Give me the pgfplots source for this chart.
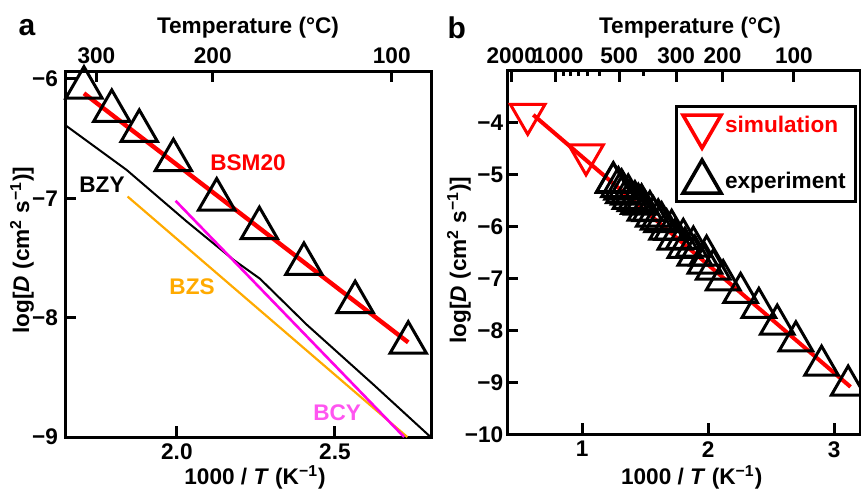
\documentclass[border=0pt]{standalone}
\usepackage{fontspec}
\setmainfont{Liberation Sans}[UprightFont=* Bold, ItalicFont=* Bold Italic, BoldFont=* Bold, BoldItalicFont=* Bold Italic]
\usepackage{pgfplots}
\pgfplotsset{compat=1.18}
\usetikzlibrary{plotmarks}

\definecolor{bzsorange}{RGB}{255,170,0}
\definecolor{bcymag}{RGB}{255,0,230}
\definecolor{bcytext}{RGB}{255,85,240}
\newcommand\fs{\fontsize{11.3}{13.5}\selectfont}

\pgfplotsset{
  panel/.style={
    scale only axis, clip=false,
    axis line style={line width=1.5pt},
    every tick/.append style={black, line width=1.5pt},
    tick align=inside, major tick length=5.5pt, minor tick length=2.5pt,
    tick label style={font=\fs},
  },
  tri/.style={only marks, mark=triangle, mark size=#1,
    mark options={black, line width=1.5pt}},
}

\begin{document}
\begin{tikzpicture}
\useasboundingbox (0,0) rectangle (430.5pt,-244pt);

% ---------- panel a ----------
\begin{axis}[panel,
  at={(32.5pt,-218.5pt)}, anchor=south west,
  width=183pt, height=183pt,
  xmin=1.646, xmax=2.804, ymin=-9, ymax=-5.933,
  xtick pos=left, ytick pos=left,
  xtick={2.0,2.5}, xticklabels={2.0,2.5},
  ytick={-9,-8,-7,-6}, yticklabels={−9,−8,−7,−6},
]
% BZY
\addplot[black, line width=1pt] coordinates {
 (1.646,-6.385) (1.841,-6.762) (2.031,-7.194) (2.179,-7.515)
 (2.263,-7.674) (2.411,-8.059) (2.622,-8.561) (2.801,-8.996)};
% BZS
\addplot[bzsorange, line width=1.1pt] coordinates {(1.844,-6.985) (2.729,-9.0)};
% BCY
\addplot[bcymag, line width=1.3pt] coordinates {(1.996,-7.021) (2.719,-9.0)};
% BSM20 experiment
\addplot[tri=10.5pt] coordinates {
 (1.706,-6.073) (1.794,-6.268) (1.881,-6.435) (1.989,-6.680) (2.126,-7.010)
 (2.261,-7.250) (2.402,-7.550) (2.564,-7.870) (2.732,-8.210)};
% BSM20 fit
\addplot[red, line width=2.2pt] coordinates {(1.706,-6.12) (2.732,-8.207)};

\node[red, font=\fs] at (axis cs:2.225,-6.704) {BSM20};
\node[black, font=\fs] at (axis cs:1.763,-6.888) {BZY};
\node[bzsorange, font=\fs] at (axis cs:2.048,-7.743) {BZS};
\node[bcytext, font=\fs] at (axis cs:2.507,-8.799) {BCY};
\end{axis}

\begin{axis}[panel,
  at={(32.5pt,-218.5pt)}, anchor=south west,
  width=183pt, height=183pt,
  xmin=1.646, xmax=2.804, ymin=0, ymax=1,
  hide y axis, axis line style={draw=none},
  xtick pos=right, xticklabel pos=right,
  xtick={1.7452,2.1135,2.6799}, xticklabels={300,200,100},
]
\end{axis}

% ---------- panel b ----------
\begin{axis}[panel,
  at={(253.65pt,-217.15pt)}, anchor=south west,
  width=176.35pt, height=181.8pt,
  xmin=0.405, xmax=3.205, ymin=-10, ymax=-3,
  xtick pos=left, ytick pos=left,
  xtick={1,2,3}, xticklabels={1,2,3},
  ytick={-10,-9,-8,-7,-6,-5,-4}, yticklabels={−10,−9,−8,−7,−6,−5,−4},
  yticklabel style={xshift=1.5pt},
  legend style={at={(0.992,0.906)}, anchor=north east, draw=black,
    line width=1.5pt, font=\fs, inner xsep=3pt, inner ysep=3pt,
    row sep=6pt, cells={anchor=west}},
  legend image code/.code={\draw[#1, mark repeat=2, mark phase=2]
    plot coordinates {(0pt,0pt) (11pt,0pt) (22pt,0pt)};},
]
\addlegendimage{only marks, mark=triangle, mark size=11pt,
  mark options={red, line width=1.8pt, rotate=180}}
\addlegendentry{\textcolor{red}{simulation}}
\addlegendimage{only marks, mark=triangle, mark size=11pt,
  mark options={black, line width=1.8pt}}
\addlegendentry{experiment}

% experiment
\addplot[tri=9.7pt, forget plot] coordinates {
 (1.247,-5.143) (1.287,-5.239) (1.326,-5.355) (1.379,-5.464) (1.445,-5.561)
 (1.498,-5.690) (1.564,-5.805) (1.630,-5.913) (1.710,-6.062) (1.802,-6.235)
 (1.882,-6.383) (1.987,-6.557)};
\addplot[tri=9.7pt, forget plot] coordinates {
 (1.246,-5.154) (1.313,-5.283) (1.365,-5.380) (1.418,-5.509) (1.471,-5.572)
 (1.537,-5.701) (1.603,-5.861) (1.670,-6.054) (1.736,-6.247) (1.815,-6.407)
 (1.894,-6.555) (1.974,-6.709) (2.040,-6.825)};
\addplot[tri=9.7pt, forget plot] coordinates {
 (2.119,-7.031) (2.257,-7.275) (2.402,-7.564) (2.548,-7.886)
 (2.696,-8.208) (2.900,-8.676) (3.111,-9.060)};
% simulation
\addplot[only marks, mark=triangle, mark size=10pt, forget plot,
  mark options={red, line width=1.5pt, rotate=180}] coordinates {
 (0.567,-3.84) (1.03,-4.62)};
\addplot[red, line width=2pt, forget plot] coordinates {(0.611,-3.85) (3.13,-9.087)};
\end{axis}

\begin{axis}[panel,
  at={(253.65pt,-217.15pt)}, anchor=south west,
  width=176.35pt, height=181.8pt,
  xmin=0.405, xmax=3.205, ymin=0, ymax=1,
  hide y axis, axis line style={draw=none},
  xtick pos=right, xticklabel pos=right,
  xtick={0.43997,0.78555,1.29341,1.74520,2.11349,2.67989},
  xticklabels={2000\hspace{7pt},\hspace{3pt}1000,500,300,200,100},
  minor xtick={0.849,0.908,0.974,1.040,1.140,1.484},
]
\end{axis}

% ---------- labels ----------
\node[font=\fontsize{15}{17}\selectfont] at (13.5pt,-14pt) {a};
\node[font=\fontsize{15}{17}\selectfont] at (228.35pt,-14pt) {b};
\node[font=\fs] at (124pt,-14pt) {Temperature (°C)};
\node[font=\fs] at (345pt,-14pt) {Temperature (°C)};
\node[font=\fs] at (127.5pt,-238.5pt) {1000 / \textit{T} (K\textsuperscript{−1})};
\node[font=\fs] at (345.85pt,-238.5pt) {1000 / \textit{T} (K\textsuperscript{−1})};
\node[font=\fs, rotate=90, anchor=base] at (14.5pt,-125pt)
  {log[\textit{D} (cm\textsuperscript{2} s\textsuperscript{−1})]};
\node[font=\fs, rotate=90, anchor=base] at (233pt,-130pt)
  {log[\textit{D} (cm\textsuperscript{2} s\textsuperscript{−1})]};
\end{tikzpicture}
\end{document}
